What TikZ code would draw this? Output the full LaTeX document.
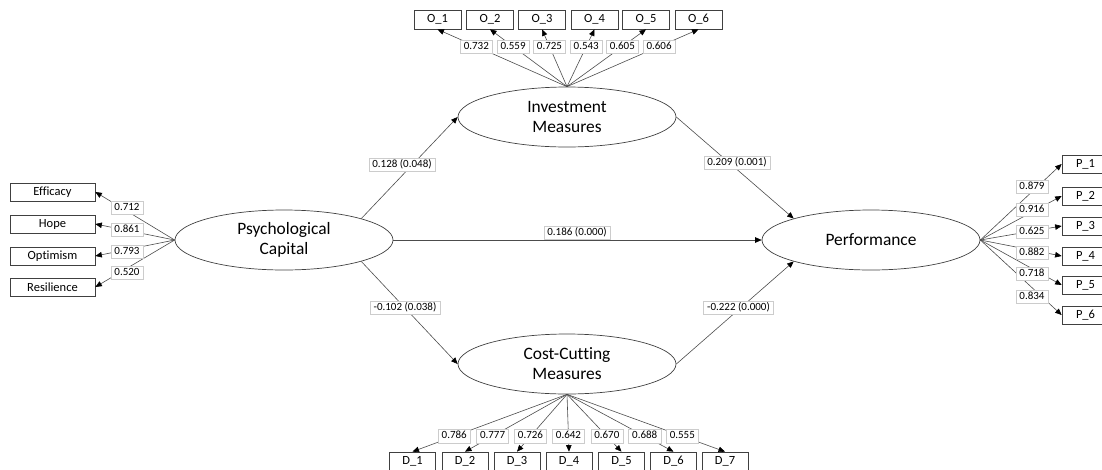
\documentclass[tikz,border=0pt]{standalone}
\usepackage{fontspec}
\setmainfont{Carlito}[Ligatures={NoCommon}]
\usetikzlibrary{shapes.geometric,arrows.meta}
\begin{document}
\begin{tikzpicture}[x=1pt,y=-1pt,
  latent/.style={draw=black!75, line width=0.7pt, ellipse, minimum width=218pt,
    minimum height=60pt, inner sep=0pt, align=center, font=\fontsize{17.4}{20}\selectfont},
  indic/.style={draw=black!75, line width=0.7pt, rectangle, inner sep=0pt,
    font=\fontsize{12.5}{15}\selectfont},
  widebox/.style={indic, minimum width=85pt, minimum height=18pt},
  smallbox/.style={indic, minimum width=47pt, minimum height=19pt},
  coef/.style={draw=black!20, line width=0.5pt, fill=white, inner xsep=3.5pt,
    inner ysep=1.8pt, text height=7.6pt, text depth=2pt, font=\fontsize{11}{13}\selectfont},
  link/.style={draw=black!70, line width=0.6pt,
    -{Triangle[length=6.5pt,width=5.5pt,color=black]}},
]
\useasboundingbox (0,0) rectangle (1102,469);

% latent constructs
\node[latent] (psy)  at (284,240) {Psychological\\Capital};
\node[latent] (inv)  at (567,117) {Investment\\Measures};
\node[latent] (perf) at (871,240) {Performance};
\node[latent] (cost) at (567,364) {Cost-Cutting\\Measures};

% psychological capital indicators
\node[widebox] (eff) at (52.5,192) {Efficacy};
\node[widebox] (hop) at (52.5,224) {Hope};
\node[widebox] (opt) at (52.5,256) {Optimism};
\node[widebox] (res) at (52.5,287) {Resilience};

% investment indicators
\foreach \i/\x in {1/437.5,2/490,3/542,4/594.5,5/646,6/698.5}
  \node[smallbox] (o\i) at (\x,19.5) {O\_\i};

% performance indicators
\foreach \i/\y in {1/164,2/196,3/226,4/256,5/285,6/315}
  \node[smallbox, minimum height=18pt] (p\i) at (1085.5,\y) {P\_\i};

% cost-cutting indicators
\foreach \i/\x in {1/412.5,2/465,3/517,4/569,5/621.5,6/673.5,7/725}
  \node[smallbox, minimum width=46pt] (d\i) at (\x,461.5) {D\_\i};

% structural paths
\draw[link] (psy.north east) -- (inv.west);
\draw[link] (inv.east) -- (perf.north west);
\draw[link] (psy.east) -- (perf.west);
\draw[link] (psy.south east) -- (cost.west);
\draw[link] (cost.east) -- (perf.south west);

% loadings: psychological capital
\foreach \t in {eff,hop,opt,res}
  \draw[link] (psy.west) -- (\t.east);

% loadings: investment
\foreach \i/\v in {1/0.732,2/0.559,3/0.725,4/0.543,5/0.605,6/0.606}
  \draw[link] (inv.north) -- node[coef, pos=0.7] {\v} (o\i.south);

% loadings: performance
\foreach \i in {1,...,6}
  \draw[link] (perf.east) -- (p\i.west);

% loadings: cost-cutting
\foreach \i/\v in {1/0.786,2/0.777,3/0.726,4/0.642,5/0.670,6/0.688,7/0.555}
  \draw[link] (cost.south) -- node[coef, pos=0.73] {\v} (d\i.north);

% coefficient labels
\node[coef] (lpi) at (402,164.5) {0.128 (0.048)};
\node[coef] (lip) at (737,163) {0.209 (0.001)};
\node[coef] (lpp) at (577,232.5) {0.186 (0.000)};
\node[coef] (lpc) at (405,307.5) {-0.102 (0.038)};
\node[coef] (lcp) at (738.5,307.5) {-0.222 (0.000)};

\node[coef] (le1) at (127,208) {0.712};
\node[coef] (le2) at (127,230) {0.861};
\node[coef] (le3) at (127,252) {0.793};
\node[coef] (le4) at (127,273) {0.520};

\node[coef] (lp1) at (1032,187) {0.879};
\node[coef] (lp2) at (1032,210) {0.916};
\node[coef] (lp3) at (1032,232) {0.625};
\node[coef] (lp4) at (1032,253) {0.882};
\node[coef] (lp5) at (1032,274) {0.718};
\node[coef] (lp6) at (1032,297) {0.834};
\end{tikzpicture}
\end{document}
